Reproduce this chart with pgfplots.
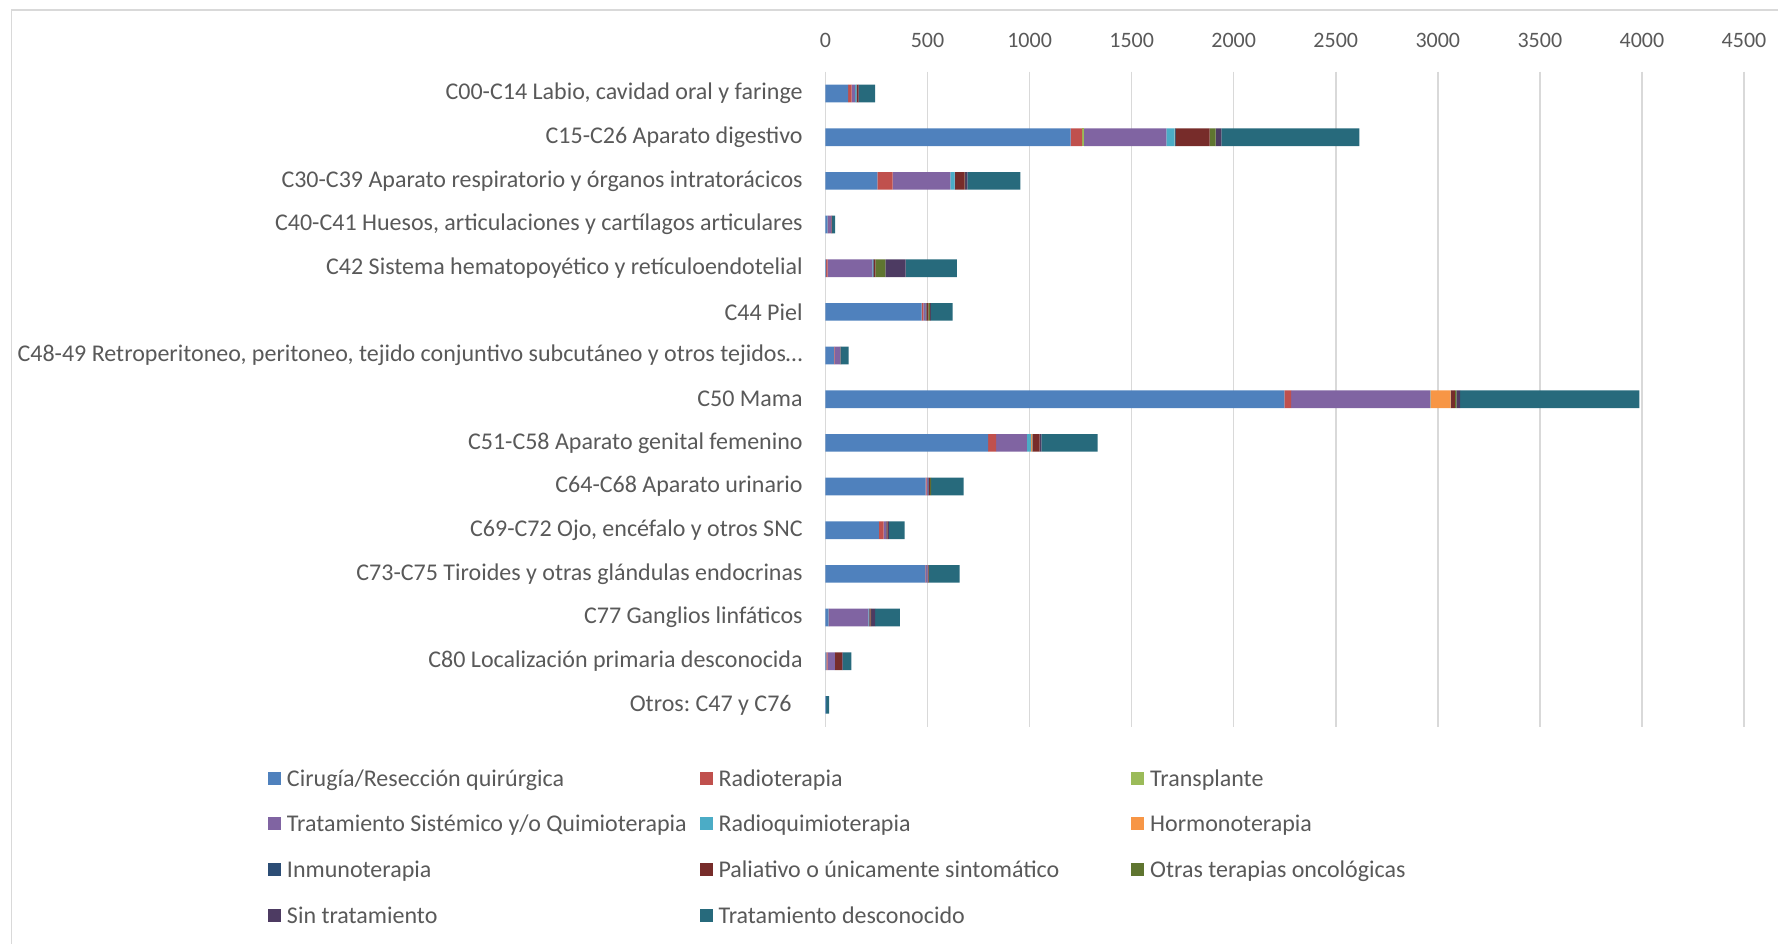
\documentclass[border=0pt]{standalone}
\usepackage{fontspec}
\setmainfont{Carlito}
\usepackage{pgfplots}
\usepackage{pgfplotstable}
\pgfplotsset{compat=1.18}
\definecolor{cir}{HTML}{4F81BD}
\definecolor{rad}{HTML}{C0504D}
\definecolor{tra}{HTML}{9BBB59}
\definecolor{sis}{HTML}{8064A2}
\definecolor{rqt}{HTML}{4BACC6}
\definecolor{hor}{HTML}{F79646}
\definecolor{inm}{HTML}{2C4D75}
\definecolor{pal}{HTML}{772C2A}
\definecolor{otr}{HTML}{5F7530}
\definecolor{sin}{HTML}{4D3B62}
\definecolor{des}{HTML}{276A7C}
\definecolor{txt}{HTML}{595959}
\definecolor{grd}{HTML}{D9D9D9}

% one row per localizacion, top to bottom
\pgfplotstableread{
y  cir  rad tra sis rqt hor inm pal otr sin des
0  111  17  0   17  6   0   2   8   0   2   80
1  1201 56  10  403 41  2   4   165 29  29  675
2  254  75  0   283 21  0   2   47  2   11  260
3  10   3   0   16  0   0   0   2   0   1   15
4  3    7   0   220 2   0   4   8   49  100 251
5  471  8   0   10  0   0   5   10  8   4   107
6  42   3   0   25  3   0   0   2   0   1   37
7  2248 33  0   681 2   99  2   18  8   18  878
8  797  39  0   150 22  6   2   33  0   9   275
9  491  5   0   6   0   0   3   8   4   0   160
10 262  23  0   11  0   0   2   6   0   7   77
11 489  3   0   8   0   0   2   3   1   0   151
12 15   3   0   192 3   0   2   6   2   20  121
13 4    6   0   36  0   0   0   35  0   3   43
14 3    0   0   0   0   0   0   0   0   0   15
}\datos

\newcommand{\legtxt}[1]{\makebox[203.3pt][l]{\rule[-3.5pt]{0pt}{13pt}#1}}

\begin{document}
\frenchspacing
\begin{tikzpicture}[x=1pt,y=1pt]
\path[use as bounding box] (0,0) rectangle (889,471.5);
\draw[grd,line width=0.75pt] (5.75,-5) -- (5.75,466.5) -- (895,466.5);
\begin{axis}[
  at={(412.75pt,435.65pt)}, anchor=north west,
  scale only axis, width=459.25pt, height=327.5pt,
  xbar stacked, bar width=8.85pt,
  xmin=0, xmax=4500, ymin=-0.5, ymax=14.5, y dir=reverse,
  xtick={0,500,...,4500}, ytick={0,...,14},
  yticklabels={
    C00-C14 Labio{,} cavidad oral y faringe,
    C15-C26 Aparato digestivo,
    C30-C39 Aparato respiratorio y órganos intratorácicos,
    C40-C41 Huesos{,} articulaciones y cartílagos articulares,
    C42 Sistema hematopoyético y retículoendotelial,
    C44 Piel,
    C48-49 Retroperitoneo{,} peritoneo{,} tejido conjuntivo subcutáneo y otros tejidos…,
    C50 Mama,
    C51-C58 Aparato genital femenino,
    C64-C68 Aparato urinario,
    C69-C72 Ojo{,} encéfalo y otros SNC,
    C73-C75 Tiroides y otras glándulas endocrinas,
    C77 Ganglios linfáticos,
    C80 Localización primaria desconocida,
    Otros: C47 y C76\rule{5.5pt}{0pt}},
  xticklabel pos=upper,
  axis line style={draw=none},
  major tick length=0pt,
  xmajorgrids, grid style={grd, line width=0.75pt},
  /pgf/number format/assume math mode=true,
  /pgf/number format/set thousands separator={},
  tick label style={text=txt},
  xticklabel style={font=\fontsize{11}{13}\selectfont, anchor=center, yshift=15.85pt},
  yticklabel style={font=\fontsize{12}{14}\selectfont, anchor=east, inner sep=0pt, xshift=-11.25pt},
  legend columns=3,
  legend cell align=left,
  legend image code/.code={\fill[#1,draw=none] (0pt,-3.25pt) rectangle (6.5pt,3.25pt);},
  legend style={at={(axis description cs:-0.6074,-0.0614)}, anchor=north west,
    draw=none, fill=none, inner sep=0pt, row sep=11.8pt,
    font=\fontsize{12}{14}\selectfont, text=txt,
    nodes={inner xsep=3pt, inner ysep=0pt}},
]
\addplot[fill=cir, draw=none] table[x=cir, y=y] {\datos};
\addlegendentry{\legtxt{Cirugía/Resección quirúrgica}}
\addplot[fill=rad, draw=none] table[x=rad, y=y] {\datos};
\addlegendentry{\legtxt{Radioterapia}}
\addplot[fill=tra, draw=none] table[x=tra, y=y] {\datos};
\addlegendentry{\legtxt{Transplante}}
\addplot[fill=sis, draw=none] table[x=sis, y=y] {\datos};
\addlegendentry{\legtxt{Tratamiento Sistémico y/o Quimioterapia}}
\addplot[fill=rqt, draw=none] table[x=rqt, y=y] {\datos};
\addlegendentry{\legtxt{Radioquimioterapia}}
\addplot[fill=hor, draw=none] table[x=hor, y=y] {\datos};
\addlegendentry{\legtxt{Hormonoterapia}}
\addplot[fill=inm, draw=none] table[x=inm, y=y] {\datos};
\addlegendentry{\legtxt{Inmunoterapia}}
\addplot[fill=pal, draw=none] table[x=pal, y=y] {\datos};
\addlegendentry{\legtxt{Paliativo o únicamente sintomático}}
\addplot[fill=otr, draw=none] table[x=otr, y=y] {\datos};
\addlegendentry{\legtxt{Otras terapias oncológicas}}
\addplot[fill=sin, draw=none] table[x=sin, y=y] {\datos};
\addlegendentry{\legtxt{Sin tratamiento}}
\addplot[fill=des, draw=none] table[x=des, y=y] {\datos};
\addlegendentry{\legtxt{Tratamiento desconocido}}
\end{axis}
\end{tikzpicture}
\end{document}
